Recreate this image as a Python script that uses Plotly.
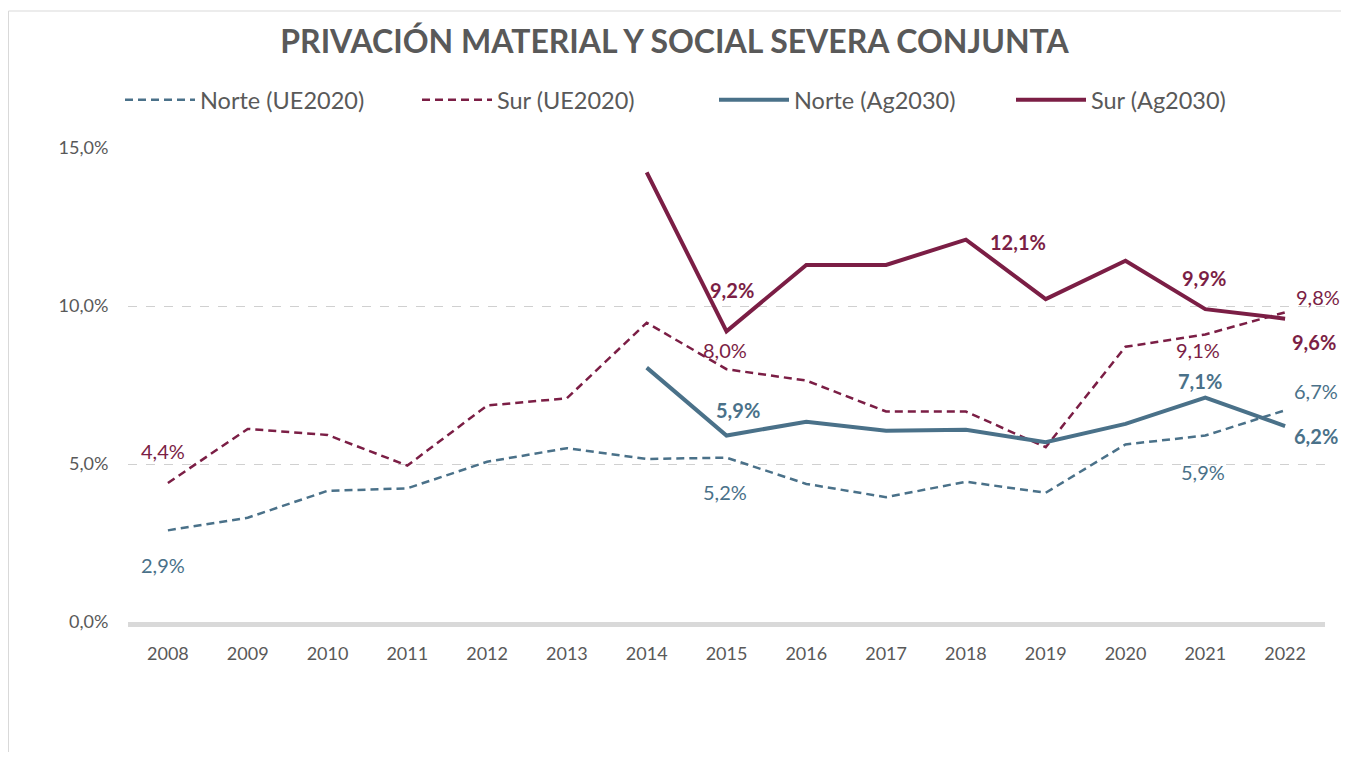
import plotly.graph_objects as go

# Dades
years = [str(y) for y in range(2008, 2023)]
years_ag = [str(y) for y in range(2014, 2023)]

norte_ue = [2.9, 3.3, 4.15, 4.23, 5.07, 5.5, 5.16, 5.2, 4.37, 3.95, 4.44, 4.09, 5.62, 5.9, 6.7]
sur_ue = [4.4, 6.11, 5.92, 4.95, 6.85, 7.08, 9.47, 8.0, 7.64, 6.66, 6.66, 5.53, 8.71, 9.1, 9.8]
norte_ag = [8.05, 5.9, 6.34, 6.05, 6.08, 5.69, 6.27, 7.1, 6.2]
sur_ag = [14.23, 9.2, 11.3, 11.3, 12.1, 10.22, 11.43, 9.9, 9.6]

y_ticks = [0, 5, 10, 15]
y_ticktext = ["0,0%", "5,0%", "10,0%", "15,0%"]

BLUE = "#4a7189"
RED = "#7b1e45"
GREY = "#595959"
FONT = "Lato"

# la pàgina té 8px de marge al body
W, H = 1333, 744
L, R, T, B = 120, 16, 140, 130
PW, PH = W - L - R, H - T - B


def px_x(px):
    return (px - L) / PW


def px_y(py):
    return (H - B - py) / PH


def fmt(v):
    return f"{v:.1f}".replace(".", ",") + "%"


fig = go.Figure()
fig.add_trace(go.Scatter(x=years, y=norte_ue, mode="lines", name="Norte (UE2020)",
                         line=dict(color=BLUE, width=2.5, dash="8px,5px")))
fig.add_trace(go.Scatter(x=years, y=sur_ue, mode="lines", name="Sur (UE2020)",
                         line=dict(color=RED, width=2.5, dash="8px,5px")))
fig.add_trace(go.Scatter(x=years_ag, y=norte_ag, mode="lines", name="Norte (Ag2030)",
                         line=dict(color=BLUE, width=4)))
fig.add_trace(go.Scatter(x=years_ag, y=sur_ag, mode="lines", name="Sur (Ag2030)",
                         line=dict(color=RED, width=4)))

# etiquetes: (sèrie, any, desplaçament x, desplaçament y, negreta)
series = {"norte_ue": (years, norte_ue, BLUE), "sur_ue": (years, sur_ue, RED),
          "norte_ag": (years_ag, norte_ag, BLUE), "sur_ag": (years_ag, sur_ag, RED)}
labels = [
    ("norte_ue", "2008", -5, -35, False),
    ("norte_ue", "2015", -2, -34, False),
    ("norte_ue", "2021", -2, -36, False),
    ("norte_ue", "2022", 31, 19, False),
    ("sur_ue", "2008", -5, 32, False),
    ("sur_ue", "2015", -2, 19, False),
    ("sur_ue", "2021", -7, -16, False),
    ("sur_ue", "2022", 33, 15, False),
    ("norte_ag", "2015", 11, 26, True),
    ("norte_ag", "2021", -5, 17, True),
    ("norte_ag", "2022", 31, -10, True),
    ("sur_ag", "2015", 5, 41, True),
    ("sur_ag", "2018", 52, -2, True),
    ("sur_ag", "2021", -1, 31, True),
    ("sur_ag", "2022", 29, -23, True),
]
for key, yr, dx, dy, bold in labels:
    xs, ys, col = series[key]
    v = ys[xs.index(yr)]
    txt = fmt(v)
    if bold:
        txt = "<b>" + txt + "</b>"
    fig.add_annotation(x=years.index(yr), y=v, xref="x", yref="y", text=txt,
                       showarrow=False, xshift=dx, yshift=dy,
                       font=dict(family=FONT, size=20, color=col))

# marc del gràfic (només esquerra i dalt són visibles)
x0, yt = px_x(0.5), px_y(3)
fig.add_shape(type="path", xref="paper", yref="paper",
              path=f"M {x0},{px_y(H)} L {x0},{yt} L {px_x(W)},{yt}",
              line=dict(color="#d9d9d9", width=1), layer="below")

fig.update_layout(
    width=W, height=H, autosize=False,
    margin=dict(l=L, r=R, t=T, b=B, autoexpand=False),
    paper_bgcolor="white", plot_bgcolor="white",
    font=dict(family=FONT, color=GREY),
    title=dict(text="<b>PRIVACIÓN MATERIAL Y SOCIAL SEVERA CONJUNTA</b>",
               x=0.5, xref="container", xanchor="center", y=1 - 34 / H, yanchor="middle",
               font=dict(family=FONT, size=32, color=GREY)),
    showlegend=True,
    legend=dict(orientation="h", x=px_x(112), xanchor="left",
                y=px_y(92), yanchor="middle", font=dict(family=FONT, size=23.5, color=GREY),
                itemwidth=70, entrywidth=212, entrywidthmode="pixels"),
    xaxis=dict(type="category", range=[-0.5, 14.5], showgrid=False, zeroline=False,
               showline=True, linecolor="#d9d9d9", linewidth=5,
               ticks="outside", ticklen=11, tickcolor="rgba(0,0,0,0)",
               tickfont=dict(family=FONT, size=18, color=GREY)),
    yaxis=dict(range=[0, 15], tickvals=y_ticks, ticktext=y_ticktext,
               showgrid=True, gridcolor="#d0d0d0", griddash="dash", gridwidth=1,
               zeroline=False, ticks="outside", ticklen=15, tickcolor="rgba(0,0,0,0)",
               tickfont=dict(family=FONT, size=18, color=GREY)),
)

fig.write_html("out.html")
